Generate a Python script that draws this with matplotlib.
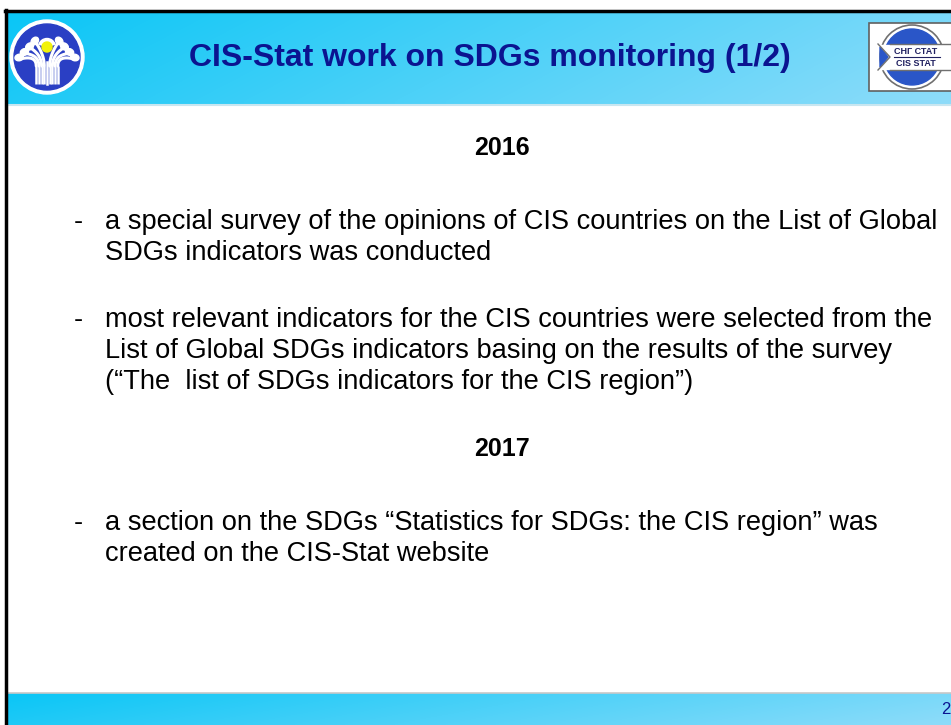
import matplotlib
matplotlib.use("Agg")
import matplotlib.pyplot as plt
import numpy as np
from matplotlib.patches import Circle, Rectangle, Polygon, Wedge, Ellipse

W, H = 951, 725

title = "CIS-Stat work on SDGs monitoring (1/2)"
page_number = "2"
year_headings = ["2016", "2017"]
bullets = [
    ["a special survey of the opinions of CIS countries on the List of Global",
     "SDGs indicators was conducted"],
    ["most relevant indicators for the CIS countries were selected from the",
     "List of Global SDGs indicators basing on the results of the survey",
     "(\u201cThe  list of SDGs indicators for the CIS region\u201d)"],
    ["a section on the SDGs \u201cStatistics for SDGs: the CIS region\u201d was",
     "created on the CIS-Stat website"],
]

fig = plt.figure(figsize=(W / 100, H / 100), dpi=100)
ax = fig.add_axes([0, 0, 1, 1])
ax.set_xlim(0, W)
ax.set_ylim(H, 0)
ax.axis("off")

# gradient bands
def band(y0, y1):
    xs = np.linspace(0, 1, 256)
    ys = np.linspace(0, 1, 16)
    X, Y = np.meshgrid(xs, ys)
    t = np.clip(0.85 * X + 0.15 * Y, 0, 1)
    c0 = np.array([0x0a, 0xc6, 0xf6]) / 255
    c1 = np.array([0x8e, 0xdc, 0xfa]) / 255
    img = c0[None, None, :] * (1 - t[..., None]) + c1[None, None, :] * t[..., None]
    ax.imshow(img, extent=(6, W, y1, y0), aspect="auto", zorder=1, interpolation="bilinear")

band(12, 104)
band(693, H)
ax.plot([6, W], [104.5, 104.5], color="#c8e6f0", lw=1.5, zorder=2)
ax.plot([6, W], [692.5, 692.5], color="#c8c8c8", lw=1.2, zorder=2)

# black frame lines
ax.plot([5.5, 5.5], [10, H], color="black", lw=2.5, zorder=3)
ax.plot([5, W], [11, 11], color="black", lw=2.5, zorder=3)

# title
ax.text(490, 58, title, ha="center", va="center", fontsize=23, fontweight="bold",
        color="#0b1490", family="Liberation Sans", zorder=4)

# left logo
cx, cy = 47, 57
blue = "#2a3fc4"
ax.add_patch(Circle((cx, cy), 37, color="white", zorder=4))
ax.add_patch(Circle((cx, cy), 33, color=blue, zorder=5))
offs = [-4, -3, -2, -1, 1, 2, 3, 4]
for i in offs:
    x0 = cx + i * 2.7
    s = np.sign(i)
    a = abs(i)
    # endpoint of each stem on a fan
    ex = cx + s * (6 + a * 5.2)
    ey = cy - 20 + a * 5.5
    t = np.linspace(0, 1, 30)
    px = (1 - t) ** 2 * x0 + 2 * (1 - t) * t * x0 + t ** 2 * ex
    py = (1 - t) ** 2 * 66 + 2 * (1 - t) * t * (cy - 2) + t ** 2 * ey
    ax.plot([x0, x0], [84, 66], color="white", lw=1.8, zorder=6, solid_capstyle="butt")
    ax.plot(px, py, color="white", lw=2.2, zorder=6, solid_capstyle="round")
    ax.add_patch(Ellipse((ex + s * 1.0, ey - 1.5), 6.5, 8.5, angle=-s * (30 + a * 12),
                         color="white", zorder=6))
ax.plot([cx, cx], [84, 62], color="white", lw=1.8, zorder=6)
ax.add_patch(Wedge((cx, cy - 10), 8.5, 200, 340, width=3, color="white", zorder=6))
ax.add_patch(Circle((cx, cy - 10), 5, color="#f2f20a", zorder=7))

# right logo
ax.add_patch(Rectangle((869, 23), 90, 68, facecolor="white", edgecolor="#606060", lw=1.2, zorder=4))
rx, ry, rr = 912, 57, 32
ax.add_patch(Circle((rx, ry), rr, facecolor="white", edgecolor="#707070", lw=1.2, zorder=5))
ax.add_patch(Wedge((rx, ry), rr - 4, 200, 340, color="#2a56c8", zorder=6))
ax.add_patch(Wedge((rx, ry), rr - 4, 20, 160, color="#2a56c8", zorder=6))
ax.add_patch(Rectangle((880, 45), 65, 24, color="white", zorder=7))
ax.add_patch(Polygon([[880, 47], [888, 57], [880, 67]], closed=True, color="#2a56c8", zorder=8))
ax.plot([878, 890, 878], [44, 57, 70], color="#707070", lw=1, zorder=8)
ax.plot([890, 951], [44, 44], color="#707070", lw=1, zorder=8)
ax.plot([890, 951], [70, 70], color="#707070", lw=1, zorder=8)
ax.text(916, 51, "СНГ СТАТ", ha="center", va="center", fontsize=6.5, fontweight="bold",
        color="#202060", family="Liberation Sans", zorder=9)
ax.plot([894, 940], [57, 57], color="#202060", lw=0.8, zorder=9)
ax.text(916, 63, "CIS STAT", ha="center", va="center", fontsize=6.5, fontweight="bold",
        color="#202060", family="Liberation Sans", zorder=9)

# body
body_fs = 19.6
ax.text(502, 148, year_headings[0], ha="center", va="center", fontsize=body_fs * 0.92,
        fontweight="bold", color="black", family="Liberation Sans", zorder=4)
ax.text(502, 449, year_headings[1], ha="center", va="center", fontsize=body_fs * 0.92,
        fontweight="bold", color="black", family="Liberation Sans", zorder=4)

line_h = 31.2
starts = [222, 320, 523]
for b, y0 in zip(bullets, starts):
    ax.text(74, y0, "-", ha="left", va="center", fontsize=body_fs, color="black",
            family="Liberation Sans", zorder=4)
    for j, line in enumerate(b):
        ax.text(105, y0 + j * line_h, line, ha="left", va="center", fontsize=body_fs,
                color="black", family="Liberation Sans", zorder=4)

ax.text(941, 710, page_number, ha="left", va="center", fontsize=12, color="#0b1490",
        family="Liberation Sans", zorder=4)

fig.savefig("out.png", dpi=100)
